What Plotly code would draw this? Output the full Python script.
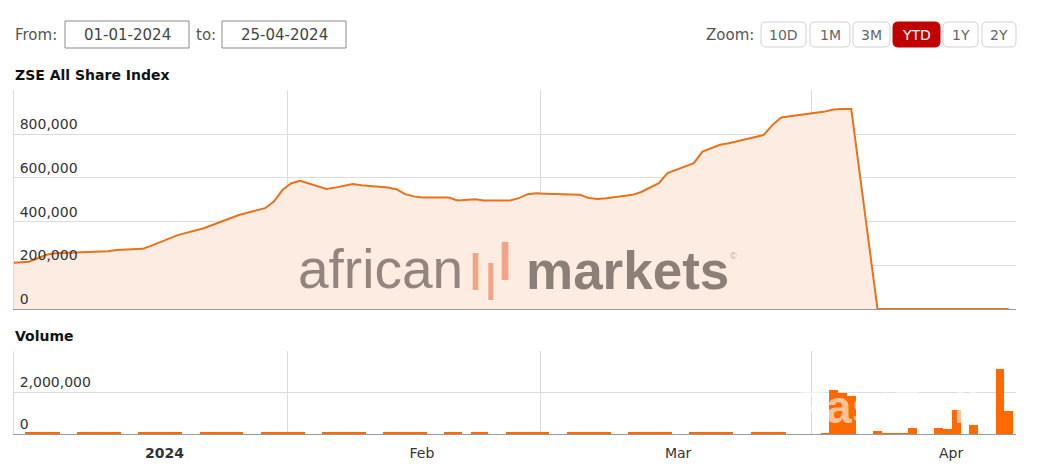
import plotly.graph_objects as go

# page body has an 8px margin; the figure is sized to fit the window
OFF = 8
W, H = 1047 - OFF, 469 - OFF

# ---------------- data ----------------
trade_dates = [
    "2023-12-29",
    "2024-01-02", "2024-01-03", "2024-01-04", "2024-01-05",
    "2024-01-08", "2024-01-09", "2024-01-10", "2024-01-11", "2024-01-12",
    "2024-01-15", "2024-01-16", "2024-01-17", "2024-01-18", "2024-01-19",
    "2024-01-22", "2024-01-23", "2024-01-24", "2024-01-25", "2024-01-26",
    "2024-01-29", "2024-01-30", "2024-01-31", "2024-02-01", "2024-02-02",
    "2024-02-05", "2024-02-06", "2024-02-07", "2024-02-08", "2024-02-09",
    "2024-02-12", "2024-02-13", "2024-02-14", "2024-02-15", "2024-02-16",
    "2024-02-19", "2024-02-20", "2024-02-22", "2024-02-23",
    "2024-02-26", "2024-02-27", "2024-02-28", "2024-02-29", "2024-03-01",
    "2024-03-04", "2024-03-05", "2024-03-06", "2024-03-07", "2024-03-08",
    "2024-03-11", "2024-03-12", "2024-03-13", "2024-03-14", "2024-03-15",
    "2024-03-18", "2024-03-19", "2024-03-20", "2024-03-21", "2024-03-22",
    "2024-03-25", "2024-03-26", "2024-03-27", "2024-03-28",
    "2024-04-02", "2024-04-03", "2024-04-04", "2024-04-05",
    "2024-04-08", "2024-04-09", "2024-04-10", "2024-04-11", "2024-04-12",
    "2024-04-15", "2024-04-16", "2024-04-17", "2024-04-19",
    "2024-04-22", "2024-04-23",
]

index_values = [
    205000,
    216000, 232000, 248000, 255000,
    259000, 260000, 262000, 264000, 270000,
    275000, 290000, 305000, 322000, 338000,
    369000, 385000, 400000, 415000, 430000,
    461000, 491000, 545000, 575000, 586000,
    549000, 555000, 562000, 571000, 566000,
    556000, 548000, 525000, 515000, 510000,
    510000, 496000, 502000, 496000,
    496000, 507000, 525000, 529000, 527000,
    524000, 522000, 507000, 503000, 506000,
    522000, 535000, 555000, 575000, 621000,
    667000, 720000, 735000, 751000, 758000,
    784000, 796000, 842000, 876000,
    903000, 912000, 915000, 915000,
    103, 104, 104, 105, 106,
    106, 107, 108, 108,
    109, 110,
]

volume_values = [
    110000,
    108000, 112000, 110000, 111000,
    110000, 113000, 108000, 111000, 109000,
    112000, 108000, 111000, 113000, 110000,
    111000, 108000, 112000, 109000, 110000,
    112000, 109000, 113000, 111000, 108000,
    110000, 109000, 112000, 108000, 111000,
    109000, 112000, 108000, 110000, 113000,
    109000, 111000, 108000, 112000,
    110000, 109000, 113000, 109000, 111000,
    108000, 112000, 110000, 111000, 109000,
    112000, 109000, 111000, 108000, 113000,
    111000, 109000, 112000, 109000, 110000,
    108000, 112000, 110000, 111000,
    60000, 2130000, 2000000, 1850000,
    150000, 40000, 50000, 40000, 300000,
    300000, 250000, 1160000, 430000,
    3150000, 1130000,
]

price_ticks = [0, 200000, 400000, 600000, 800000, 1000000]
price_tick_text = ["0", "200,000", "400,000", "600,000", "800,000", ""]
volume_ticks = [0, 2000000, 4000000]
volume_tick_text = ["0", "2,000,000", ""]
month_label_dates = ["2024-01-18 00:00", "2024-02-16 10:00", "2024-03-16 17:00", "2024-04-16 22:00"]
month_labels = ["<b>2024</b>", "Feb", "Mar", "Apr"]
month_starts = ["2024-02-01", "2024-03-01", "2024-04-01"]
x_range = ["2023-12-31 19:00", "2024-04-24 08:00"]

# ---------------- styling helpers ----------------
FONT = "Verdana, DejaVu Sans, sans-serif"
LINE_COLOR = "#e8711a"
FILL_COLOR = "#fdece2"
BAR_COLOR = "#ff6a00"
GRID = "#dcdcdc"


def px(x):
    # screen pixel -> paper fraction
    return (x - OFF) / W


def py(y):
    return 1 - (y - OFF) / H


def rounded_rect(x0, y0, x1, y1, r):
    def P(x, y):
        return f"{px(x):.5f},{py(y):.5f}"
    return (f"M {P(x0 + r, y0)} L {P(x1 - r, y0)} Q {P(x1, y0)} {P(x1, y0 + r)} "
            f"L {P(x1, y1 - r)} Q {P(x1, y1)} {P(x1 - r, y1)} "
            f"L {P(x0 + r, y1)} Q {P(x0, y1)} {P(x0, y1 - r)} "
            f"L {P(x0, y0 + r)} Q {P(x0, y0)} {P(x0 + r, y0)} Z")


fig = go.Figure()

fig.add_trace(go.Scatter(
    x=trade_dates, y=index_values, mode="lines",
    line=dict(color=LINE_COLOR, width=2),
    fill="tozeroy", fillcolor=FILL_COLOR,
    xperiod=86400000, xperiodalignment="middle",
    xaxis="x2", yaxis="y2", hoverinfo="skip", showlegend=False,
))

fig.add_trace(go.Bar(
    x=trade_dates, y=volume_values,
    marker=dict(color=BAR_COLOR, line=dict(width=0)),
    xperiod=86400000, xperiodalignment="middle",
    width=86400000,
    xaxis="x", yaxis="y", hoverinfo="skip", showlegend=False,
))

xdom = [px(14), px(1016)]

fig.update_layout(
    width=W, height=H, autosize=False,
    margin=dict(l=0, r=0, t=0, b=0),
    paper_bgcolor="white", plot_bgcolor="rgba(0,0,0,0)",
    font=dict(family=FONT, color="#333333", size=14),
    bargap=0,
    xaxis=dict(
        domain=xdom, anchor="y", type="date", range=x_range,
        tickmode="array", tickvals=month_label_dates, ticktext=month_labels,
        showgrid=False, ticks="", showline=True, linecolor="#999999", linewidth=1,
        tickfont=dict(size=14, color="#333333"), ticklabelstandoff=6,
        minor=dict(tickmode="array", tickvals=month_starts, showgrid=True,
                   gridcolor=GRID, gridwidth=1, ticks=""),
        zeroline=False, fixedrange=True, layer="below traces",
    ),
    xaxis2=dict(
        domain=xdom, anchor="y2", type="date", range=x_range, matches="x",
        tickmode="array", tickvals=month_label_dates, ticktext=month_labels,
        showticklabels=False, showgrid=False, ticks="",
        showline=True, linecolor="#999999", linewidth=1,
        minor=dict(tickmode="array", tickvals=month_starts, showgrid=True,
                   gridcolor=GRID, gridwidth=1, ticks=""),
        zeroline=False,
    ),
    yaxis=dict(
        domain=[py(434), py(350.7)], anchor="x", range=[0, 4000000],
        tickmode="array", tickvals=volume_ticks, ticktext=volume_tick_text,
        showgrid=True, gridcolor=GRID, zeroline=False,
        showline=True, linecolor=GRID,
        ticklabelposition="inside top", ticks="", ticklabelstandoff=5,
        tickfont=dict(size=14, color="#333333"),
    ),
    yaxis2=dict(
        domain=[py(309), py(90.3)], anchor="x2", range=[0, 1000000],
        tickmode="array", tickvals=price_ticks, ticktext=price_tick_text,
        showgrid=True, gridcolor=GRID, zeroline=False,
        showline=True, linecolor=GRID,
        ticklabelposition="inside top", ticks="", ticklabelstandoff=5,
        tickfont=dict(size=14, color="#333333"),
    ),
)

annotations = []
shapes = []

# Section titles
annotations.append(dict(text="<b>ZSE All Share Index</b>", x=px(13), y=py(75), xref="paper", yref="paper",
                        xanchor="left", yanchor="middle", showarrow=False,
                        font=dict(size=14, color="#111111", family=FONT)))
annotations.append(dict(text="<b>Volume</b>", x=px(13), y=py(336), xref="paper", yref="paper",
                        xanchor="left", yanchor="middle", showarrow=False,
                        font=dict(size=14, color="#111111", family=FONT)))

# Range inputs
annotations.append(dict(text="From:", x=px(13), y=py(35), xref="paper", yref="paper",
                        xanchor="left", yanchor="middle", showarrow=False,
                        font=dict(size=15, color="#555555", family=FONT)))
annotations.append(dict(text="to:", x=px(194), y=py(35), xref="paper", yref="paper",
                        xanchor="left", yanchor="middle", showarrow=False,
                        font=dict(size=15, color="#555555", family=FONT)))
for (x0, x1, label) in [(65, 189, "01-01-2024"), (222, 346, "25-04-2024")]:
    shapes.append(dict(type="rect", xref="paper", yref="paper",
                       x0=px(x0), x1=px(x1), y0=py(48), y1=py(21),
                       line=dict(color="#8a8a8a", width=1), fillcolor="white", layer="above"))
    annotations.append(dict(text=label, x=px((x0 + x1) / 2), y=py(35), xref="paper", yref="paper",
                            xanchor="center", yanchor="middle", showarrow=False,
                            font=dict(size=15, color="#444444", family=FONT)))

# Zoom buttons
annotations.append(dict(text="Zoom:", x=px(704), y=py(35), xref="paper", yref="paper",
                        xanchor="left", yanchor="middle", showarrow=False,
                        font=dict(size=15, color="#555555", family=FONT)))
buttons = [(761, 806, "10D", False), (810, 850, "1M", False), (853, 890, "3M", False),
           (893, 940, "YTD", True), (943, 978, "1Y", False), (982, 1016, "2Y", False)]
for (x0, x1, label, active) in buttons:
    shapes.append(dict(type="path", xref="paper", yref="paper",
                       path=rounded_rect(x0, 22, x1, 47, 5),
                       line=dict(color="#c00000" if active else "#d0d0d0", width=1),
                       fillcolor="#c00000" if active else "white", layer="above"))
    annotations.append(dict(text=label, x=px((x0 + x1) / 2), y=py(35), xref="paper", yref="paper",
                            xanchor="center", yanchor="middle", showarrow=False,
                            font=dict(size=14, color="white" if active else "#666666", family=FONT)))

# "african markets" watermark logo
annotations.append(dict(text="african", x=px(296), y=py(290), xref="paper", yref="paper",
                        xanchor="left", yanchor="bottom", showarrow=False, yshift=-12,
                        font=dict(size=55, color="rgba(120,108,100,0.8)", family="Liberation Sans, Arial")))
annotations.append(dict(text="<b>markets</b>", x=px(524), y=py(290), xref="paper", yref="paper",
                        xanchor="left", yanchor="bottom", showarrow=False, yshift=-12,
                        font=dict(size=53, color="rgba(120,108,100,0.85)", family="Liberation Sans, Arial")))
annotations.append(dict(text="©", x=px(733), y=py(256), xref="paper", yref="paper",
                        xanchor="center", yanchor="middle", showarrow=False,
                        font=dict(size=9, color="rgba(120,108,100,0.6)", family="Liberation Sans, Arial")))
for (x0, x1, y0, y1) in [(472.7, 478.3, 253, 290), (488.3, 493.3, 263, 300), (501.7, 508.3, 242, 280)]:
    shapes.append(dict(type="rect", xref="paper", yref="paper",
                       x0=px(x0), x1=px(x1), y0=py(y1), y1=py(y0),
                       line=dict(width=0), fillcolor="rgba(240,140,100,0.75)", layer="above"))

# FastBull watermark over volume
annotations.append(dict(text="<b>FastBull</b>", x=px(888), y=py(407), xref="paper", yref="paper",
                        xanchor="center", yanchor="middle", showarrow=False,
                        font=dict(size=46, color="rgba(255,255,255,0.6)", family="Liberation Sans, Arial")))

fig.update_layout(annotations=annotations, shapes=shapes)

fig.write_html("out.html")
